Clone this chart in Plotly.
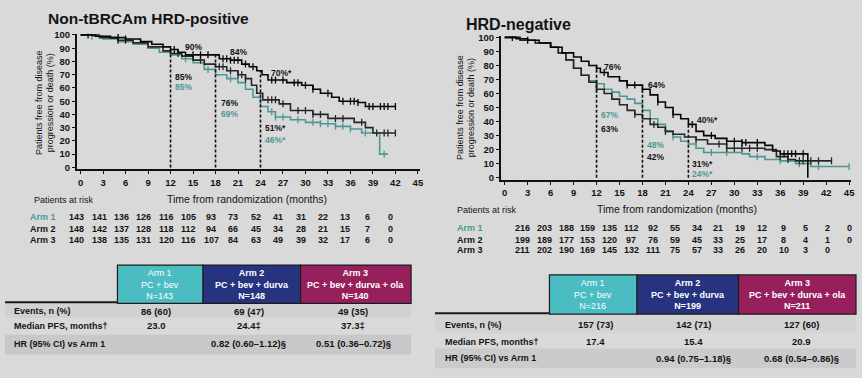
import numpy as np
import plotly.graph_objects as go

W, H = 862, 378

# ---------------- data ----------------
tick_months = list(range(0, 46, 3))
y_ticks = list(range(0, 101, 10))
milestones = [12, 18, 24]

# Left panel: Non-tBRCAm HRD-positive (KM step points, % free from progression)
pos_arm1_t = [0, 1.5, 3, 5, 7, 9, 10.5, 12, 13.5, 15, 16.5, 18, 19.5, 21, 22, 23, 24, 25, 26, 28, 30, 32, 34, 36, 37.5, 39.9, 41]
pos_arm1_s = [100, 99, 97, 95, 93, 90, 87, 85, 82, 79, 74, 70, 67, 64, 59, 53, 46, 42, 38, 36, 34, 33, 31, 29, 26, 10, 10]
pos_arm2_t = [0, 2.5, 5, 7, 9, 11, 12, 13.5, 15, 16.5, 18, 19.5, 21, 22, 22.8, 23.5, 24.3, 26.5, 28, 31, 33, 36.5, 38, 39, 42]
pos_arm2_s = [100, 98, 96, 94, 91, 88, 86, 84, 81, 78, 76, 73, 70, 67, 62, 56, 51, 48, 43, 40, 37, 34, 30, 26, 26]
pos_arm3_t = [0, 2, 4, 6, 8, 9.5, 11, 12, 13, 14, 18.5, 20, 21.5, 22.5, 23.5, 24.2, 25, 27.5, 29.5, 31, 32, 33.5, 34.5, 37, 38, 42]
pos_arm3_s = [100, 99, 98, 97, 95, 93, 91, 89, 87, 85, 82, 81, 78, 76, 73, 70, 66, 64, 62, 59, 56, 53, 50, 49, 46, 46]
pos_arm1_cens = [1.5, 14, 17, 20, 25.5, 26, 27, 29, 31, 32, 33, 34, 35, 36, 38, 40.5]
pos_arm2_cens = [5, 6, 13, 16, 18.5, 19, 20, 21, 21.5, 22, 25, 25.5, 26, 27, 29, 30, 31, 32, 34, 35, 37.5, 39.5, 40.5, 41, 42]
pos_arm3_cens = [1, 5, 6, 12.5, 15, 16, 17, 19, 19.5, 20, 20.5, 21, 22, 23, 25.5, 26, 27, 28.5, 29, 30, 31, 33, 35, 36,
                 36.5, 37, 38.5, 39, 40, 40.5, 41, 42]

# Right panel: HRD-negative
neg_arm1_t = [0, 2, 4, 6, 7, 8, 9, 10, 11, 12, 13, 14, 15, 16, 17, 18, 19, 20, 21, 22, 23, 24, 25, 26, 31, 32, 34, 36, 38, 40, 45]
neg_arm1_s = [100, 98, 96, 93, 89, 84, 78, 73, 69, 67, 63, 61, 58, 56, 53, 48, 42, 38, 33, 29, 26, 24, 21, 18, 17, 15, 13, 12, 10, 8, 8]
neg_arm2_t = [0, 2, 4, 6, 7, 8, 9, 10, 11, 12, 13, 14, 15, 16, 17, 18, 19, 20, 21, 22, 23.5, 25, 26.5, 29, 34, 35.5, 37, 38, 42.7]
neg_arm2_s = [100, 98, 96, 93, 89, 84, 78, 73, 68, 63, 60, 56, 52, 48, 45, 42, 38, 36, 33, 31, 29, 27, 24, 21, 20, 15, 13, 12, 12]
neg_arm3_t = [0, 1.5, 3, 4.5, 6, 7.5, 9, 10, 11, 12, 12.5, 13.5, 15, 16, 18, 19, 20, 21, 22, 23, 24, 25, 26, 27.5, 29, 31, 34, 35, 36, 39.6]
neg_arm3_s = [100, 99, 98, 96, 93, 89, 86, 83, 80, 78, 75, 72, 69, 66, 63, 59, 54, 50, 45, 42, 38, 33, 30, 28, 26, 25, 23, 19, 17, 0]
neg_arm1_cens = [22, 27, 29, 33, 36, 38.5, 41, 45]
neg_arm2_cens = [12, 17, 19.5, 21, 25, 28, 29, 30, 31, 32, 33, 36, 37, 38.5, 39, 40, 41, 42.7]
neg_arm3_cens = [1, 3, 12, 13, 16, 17, 18, 20, 22, 24.5, 27, 29, 30, 31, 31.5, 33, 36.5, 37, 37.5, 38, 39]

# milestone labels: (text, x, y, colour-key)
pos_labels = [("90%", 13.6, 91, "k"), ("84%", 19.6, 87, "k"), ("70%*", 25.2, 71, "k"),
              ("85%", 12.35, 68.5, "k"), ("85%", 12.35, 61, "t"),
              ("76%", 18.4, 49, "k"), ("69%", 18.4, 40.5, "t"),
              ("51%*", 24.35, 29.5, "k"), ("46%*", 24.35, 21, "t")]
neg_labels = [("76%", 12.7, 79, "k"), ("64%", 18.4, 66, "k"), ("40%*", 24.8, 41, "k"),
              ("67%", 12.3, 44.7, "t"), ("63%", 12.3, 35, "k"),
              ("48%", 18.3, 23, "t"), ("42%", 18.3, 14.7, "k"),
              ("31%*", 24.2, 10, "k"), ("24%*", 24.2, 2.5, "t")]

# patients at risk
pos_risk_arm1 = [143, 141, 136, 126, 116, 105, 93, 73, 52, 41, 31, 22, 13, 6, 0]
pos_risk_arm2 = [148, 142, 137, 128, 118, 112, 94, 66, 45, 34, 28, 21, 15, 7, 0]
pos_risk_arm3 = [140, 138, 135, 131, 120, 116, 107, 84, 63, 49, 39, 32, 17, 6, 0]
neg_risk_arm1 = [216, 203, 188, 159, 135, 112, 92, 55, 34, 21, 19, 12, 9, 5, 2, 0]
neg_risk_arm2 = [199, 189, 177, 153, 120, 97, 76, 59, 45, 33, 25, 17, 8, 4, 1, 0]
neg_risk_arm3 = [211, 202, 190, 169, 145, 132, 111, 75, 57, 33, 26, 20, 10, 3, 0]

# summary tables
arm_headers = ["Arm 1<br>PC + bev", "Arm 2<br>PC + bev + durva", "Arm 3<br>PC + bev + durva + ola"]
pos_n = [143, 148, 140]
neg_n = [216, 199, 211]
row_labels = ["Events, n (%)", "Median PFS, months†", "HR (95% CI) vs Arm 1"]
pos_events = ["86 (60)", "69 (47)", "49 (35)"]
pos_median = ["23.0", "24.4‡", "37.3‡"]
pos_hr = ["", "0.82 (0.60–1.12)§", "0.51 (0.36–0.72)§"]
neg_events = ["157 (73)", "142 (71)", "127 (60)"]
neg_median = ["17.4", "15.4", "20.9"]
neg_hr = ["", "0.94 (0.75–1.18)§", "0.68 (0.54–0.86)§"]

# ---------------- style ----------------
BG = "#d9d9d9"
TEAL = "#4e9894"
INK = "#141414"
ARM_COLORS = ["#4cbcc3", "#27337f", "#97205c"]
CURVE_COLORS = {"a1": TEAL, "a2": "#262626", "a3": "#050505"}
FONT = "Liberation Sans, Arial, sans-serif"


def fx(px):
    return px / W


def fy(py):
    return 1 - py / H


def step_at(t_arr, s_arr, t):
    idx = np.searchsorted(np.asarray(t_arr), t, side="right") - 1
    return np.asarray(s_arr)[np.clip(idx, 0, len(s_arr) - 1)]


fig = go.Figure()
annotations = []
shapes = []


def add_km(t, s, cens, color, xa, ya):
    fig.add_trace(go.Scatter(x=t, y=s, mode="lines", line=dict(color=color, width=1.6, shape="hv"),
                             xaxis=xa, yaxis=ya, showlegend=False, hoverinfo="skip"))
    cy = step_at(t, s, cens)
    fig.add_trace(go.Scatter(x=cens, y=cy, mode="markers",
                             marker=dict(symbol="line-ns-open", size=5, color=color,
                                         line=dict(color=color, width=1.3)),
                             xaxis=xa, yaxis=ya, showlegend=False, hoverinfo="skip"))


add_km(pos_arm1_t, pos_arm1_s, pos_arm1_cens, CURVE_COLORS["a1"], "x", "y")
add_km(pos_arm2_t, pos_arm2_s, pos_arm2_cens, CURVE_COLORS["a2"], "x", "y")
add_km(pos_arm3_t, pos_arm3_s, pos_arm3_cens, CURVE_COLORS["a3"], "x", "y")
add_km(neg_arm1_t, neg_arm1_s, neg_arm1_cens, CURVE_COLORS["a1"], "x2", "y2")
add_km(neg_arm2_t, neg_arm2_s, neg_arm2_cens, CURVE_COLORS["a2"], "x2", "y2")
add_km(neg_arm3_t, neg_arm3_s, neg_arm3_cens, CURVE_COLORS["a3"], "x2", "y2")

# invisible anchor traces for the risk-table axes
for xa, ya in (("x3", "y3"), ("x4", "y4")):
    fig.add_trace(go.Scatter(x=[0, 45], y=[0, 0], mode="markers", marker=dict(opacity=0),
                             xaxis=xa, yaxis=ya, showlegend=False, hoverinfo="skip"))

# milestone dashed lines
for xr, yr, t, s in (("x", "y", pos_arm3_t, pos_arm3_s), ("x2", "y2", neg_arm3_t, neg_arm3_s)):
    for m in milestones:
        top = float(step_at(t, s, m))
        shapes.append(dict(type="line", xref=xr, yref=yr, x0=m, x1=m, y0=0, y1=top,
                           line=dict(color="#111", width=1.6, dash="3px,2px")))

# milestone labels
for xr, yr, labs in (("x", "y", pos_labels), ("x2", "y2", neg_labels)):
    for txt_, x, y, c in labs:
        annotations.append(dict(xref=xr, yref=yr, x=x, y=y, text=txt_, showarrow=False, xanchor="left",
                                yanchor="middle", font=dict(family=FONT, size=8.5, weight="bold",
                                                             color=TEAL if c == "t" else INK)))


def txt(x, y, text, size=8.5, color=INK, xanchor="center", weight="bold", **kw):
    d = dict(xref="paper", yref="paper", x=fx(x), y=fy(y), text=text, showarrow=False,
             xanchor=xanchor, yanchor="middle",
             font=dict(family=FONT, size=size, color=color, weight=weight))
    d.update(kw)
    annotations.append(d)


# titles
txt(46, 15, "Non-tBRCAm HRD-positive", size=15.5, xanchor="left")
txt(466, 21, "HRD-negative", size=16, xanchor="left")

# y-axis titles
txt(45, 100, "Patients free from disease<br>progression or death (%)", size=9, textangle=-90, weight="normal")
txt(468, 105, "Patients free from disease<br>progression or death (%)", size=9, textangle=-90, weight="normal")

# x-axis titles
txt(248, 199, "Time from randomization (months)", size=10.5, weight="normal")
txt(680, 209, "Time from randomization (months)", size=10.5, weight="normal")

# patients at risk
txt(32, 200, "Patients at risk", size=9, xanchor="left", weight="normal")
txt(457, 210, "Patients at risk", size=9, xanchor="left", weight="normal")

for xr, lab_x, rows_y, risks in (
        ("x3", 43, [217, 229, 240], [pos_risk_arm1, pos_risk_arm2, pos_risk_arm3]),
        ("x4", 472, [228, 240, 251], [neg_risk_arm1, neg_risk_arm2, neg_risk_arm3])):
    for i, (ry, vals) in enumerate(zip(rows_y, risks)):
        txt(lab_x, ry, f"Arm {i + 1}", size=9, color=TEAL if i == 0 else INK)
        for tm, v in zip(tick_months, vals):
            annotations.append(dict(xref=xr, yref="paper", x=tm, y=fy(ry), text=str(v), showarrow=False,
                                    xanchor="center", yanchor="middle",
                                    font=dict(family=FONT, size=9, color=INK, weight="bold")))


# summary tables
def table(box_x, box_y, rule_x0, rule_y, bands, rows_y, label_x, col_x, ns, events, median, hr):
    for y0, y1, col in bands:
        shapes.append(dict(type="rect", xref="paper", yref="paper", x0=fx(rule_x0), x1=fx(box_x[-1]),
                           y0=fy(y1), y1=fy(y0), fillcolor=col, line=dict(width=0), layer="below"))
    for i in range(3):
        shapes.append(dict(type="rect", xref="paper", yref="paper", x0=fx(box_x[i]), x1=fx(box_x[i + 1]),
                           y0=fy(box_y[1]), y1=fy(box_y[0]), fillcolor=ARM_COLORS[i],
                           line=dict(color="#1c1c1c", width=1.2)))
        cx = (box_x[i] + box_x[i + 1]) / 2
        txt(cx, (box_y[0] + box_y[1]) / 2, f"{arm_headers[i]}<br>N={ns[i]}", size=9, color="white",
            weight="bold" if i else "normal")
    shapes.append(dict(type="line", xref="paper", yref="paper", x0=fx(rule_x0), x1=fx(box_x[0]),
                       y0=fy(rule_y), y1=fy(rule_y), line=dict(color="#1a1a1a", width=2)))
    for ry, lab in zip(rows_y, row_labels):
        txt(label_x, ry, lab, size=9, xanchor="left")
    for vals, ry in zip((events, median, hr), rows_y):
        for cx, v in zip(col_x, vals):
            if v:
                txt(cx, ry, v, size=9.5)


table([118, 204, 302, 413], [266, 305], 5, 304, [(305, 320, "#d1d1d1"), (337, 357, "#c8c8c8")],
      [313, 328, 346], 12, [157, 250, 355], pos_n, pos_events, pos_median, pos_hr)
table([552, 640, 742, 860], [276, 316], 437, 315, [(317, 335, "#d3d3d3"), (351, 371, "#cbcbcb")],
      [327, 344, 361], 445, [598, 697, 805], neg_n, neg_events, neg_median, neg_hr)

axis_common = dict(showgrid=False, zeroline=False, showline=True, linecolor="#111", linewidth=1.6,
                   ticks="outside", ticklen=3, tickwidth=1.4, tickcolor="#111",
                   tickfont=dict(family=FONT, size=9.5, color=INK, weight="bold"))

fig.update_layout(
    width=W, height=H, autosize=False,
    margin=dict(l=0, r=0, t=0, b=0),
    paper_bgcolor=BG, plot_bgcolor=BG,
    xaxis=dict(domain=[fx(77.2), fx(422.1)], range=[-0.5, 45.3], tickvals=tick_months, anchor="y", **axis_common),
    yaxis=dict(domain=[fy(168.5), fy(30.2)], range=[-1.5, 101], tickvals=y_ticks, anchor="x", **axis_common),
    xaxis2=dict(domain=[fx(503.2), fx(855.4)], range=[-0.5, 45.3], tickvals=tick_months, anchor="y2", **axis_common),
    yaxis2=dict(domain=[fy(179.1), fy(32.6)], range=[-1.5, 101], tickvals=y_ticks, anchor="x2", **axis_common),
    xaxis3=dict(domain=[fx(77), fx(414.5)], range=[0, 45], visible=False, anchor="y3"),
    yaxis3=dict(domain=[0, 0.02], range=[0, 1], visible=False, anchor="x3"),
    xaxis4=dict(domain=[fx(525), fx(853)], range=[0, 45], visible=False, anchor="y4"),
    yaxis4=dict(domain=[0, 0.02], range=[0, 1], visible=False, anchor="x4"),
    annotations=annotations,
    shapes=shapes,
)

fig.write_html("out.html", config={"displayModeBar": False},
               post_script="document.body.style.margin='0';")
